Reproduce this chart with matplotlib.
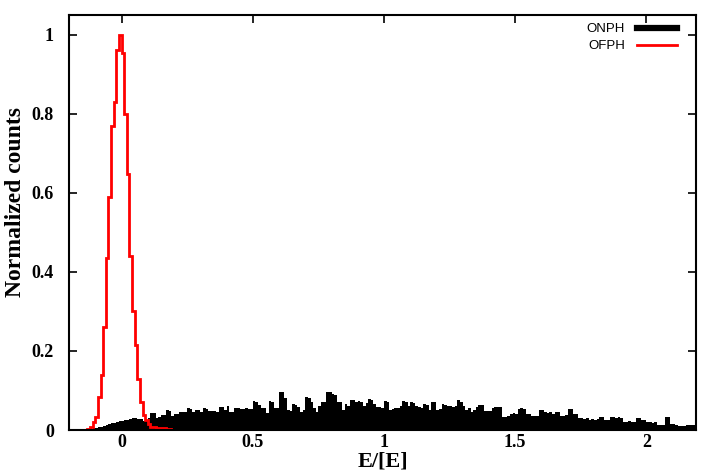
import numpy as np
import matplotlib
matplotlib.use("Agg")
import matplotlib.pyplot as plt
from matplotlib.lines import Line2D

# ONPH histogram, bins of 0.01 starting at -0.13
onph_start = -0.13
onph_width = 0.01
onph = [
    0.002, 0.003, 0.004, 0.006, 0.007, 0.008, 0.010, 0.012, 0.014, 0.017, 0.018, 0.020, 0.022,
    0.024, 0.026, 0.025, 0.028, 0.030, 0.031, 0.029, 0.027, 0.024, 0.022,
    0.030, 0.044, 0.042, 0.030, 0.032, 0.038, 0.038, 0.050, 0.048, 0.035,
    0.040, 0.040, 0.046, 0.046, 0.045, 0.055, 0.054, 0.045, 0.050, 0.050,
    0.045, 0.055, 0.054, 0.047, 0.047, 0.048, 0.046, 0.059, 0.058, 0.050,
    0.060, 0.045, 0.045, 0.056, 0.056, 0.052, 0.052, 0.055, 0.052, 0.052,
    0.074, 0.070, 0.063, 0.055, 0.055, 0.042, 0.074, 0.072, 0.055, 0.055,
    0.097, 0.095, 0.080, 0.050, 0.048, 0.065, 0.063, 0.058, 0.045, 0.050,
    0.083, 0.080, 0.070, 0.055, 0.045, 0.060, 0.070, 0.070, 0.095, 0.095,
    0.090, 0.088, 0.070, 0.070, 0.050, 0.065, 0.062, 0.077, 0.075, 0.070,
    0.074, 0.072, 0.060, 0.068, 0.078, 0.076, 0.065, 0.058, 0.058, 0.055,
    0.074, 0.072, 0.050, 0.052, 0.055, 0.055, 0.060, 0.074, 0.072, 0.060,
    0.070, 0.068, 0.060, 0.058, 0.055, 0.065, 0.063, 0.050, 0.070, 0.070,
    0.050, 0.052, 0.065, 0.063, 0.060, 0.060, 0.058, 0.060, 0.075, 0.070,
    0.060, 0.050, 0.055, 0.045, 0.050, 0.058, 0.063, 0.063, 0.049, 0.049,
    0.049, 0.055, 0.059, 0.059, 0.057, 0.034, 0.034, 0.036, 0.040, 0.042,
    0.040, 0.053, 0.055, 0.053, 0.040, 0.040, 0.036, 0.036, 0.036, 0.050,
    0.050, 0.046, 0.044, 0.046, 0.040, 0.046, 0.045, 0.035, 0.035, 0.038,
    0.053, 0.053, 0.040, 0.040, 0.030, 0.030, 0.028, 0.030, 0.026, 0.028,
    0.026, 0.027, 0.033, 0.033, 0.025, 0.025, 0.033, 0.033, 0.030, 0.033,
    0.030, 0.021, 0.021, 0.022, 0.021, 0.020, 0.030, 0.030, 0.025, 0.025,
    0.020, 0.020, 0.019, 0.020, 0.013, 0.013, 0.013, 0.034, 0.034, 0.015,
    0.015, 0.013, 0.010, 0.010, 0.010, 0.013, 0.013, 0.013, 0.013,
]

# OFPH histogram, bins of 0.01 starting at -0.13, then a flat zero to the end
ofph_start = -0.13
ofph_width = 0.01
ofph = [
    0.003, 0.008, 0.020, 0.034, 0.084, 0.14, 0.26, 0.435, 0.59, 0.77, 0.83, 0.962, 1.0,
    0.955, 0.80, 0.648, 0.44, 0.30, 0.215, 0.13, 0.071, 0.038, 0.025,
    0.015, 0.008, 0.008, 0.005, 0.005, 0.004, 0.004, 0.003, 0.002, 0.0,
]
x_end = 2.2

on_edges = onph_start + onph_width * np.arange(len(onph) + 1)
of_edges = np.append(ofph_start + ofph_width * np.arange(len(ofph) + 1), x_end)
of_vals = np.append(ofph, 0.0)

plt.rcParams['font.family'] = ['Liberation Serif', 'DejaVu Serif']

fig = plt.figure(figsize=(7.2, 4.71), dpi=100)
ax = fig.add_axes([0.096, 0.087, 0.871, 0.881])

ax.stairs(onph, on_edges, fill=True, color='black', linewidth=0)
ax.stairs(of_vals, of_edges, color='red', linewidth=2.0)

ax.set_xlim(-0.2, 2.19)
ax.set_ylim(0, 1.05)
ax.set_xticks([0, 0.5, 1, 1.5, 2])
ax.set_xticklabels(['0', '0.5', '1', '1.5', '2'])
ax.set_yticks([0, 0.2, 0.4, 0.6, 0.8, 1])
ax.set_yticklabels(['0', '0.2', '0.4', '0.6', '0.8', '1'])
ax.tick_params(direction='in', top=True, right=True, length=6, width=1.2,
               labelsize=13)
ax.tick_params(axis='x', pad=3)
ax.tick_params(axis='y', pad=11)
for lab in ax.get_xticklabels() + ax.get_yticklabels():
    lab.set_fontweight('bold')
for s in ax.spines.values():
    s.set_linewidth(1.5)

ax.set_xlabel('E/[E]', fontsize=16, fontweight='bold', labelpad=0)
ax.set_ylabel('Normalized counts', fontsize=17, fontweight='bold')
ax.yaxis.set_label_coords(-0.068, 0.55)

handles = [Line2D([], [], color='black', linewidth=4.5),
           Line2D([], [], color='red', linewidth=2)]
leg = ax.legend(handles, ['ONPH', 'OFPH'], loc='upper right',
                bbox_to_anchor=(0.975, 0.99), frameon=False,
                markerfirst=False, handlelength=3.0, handletextpad=0.9,
                labelspacing=0.35, borderaxespad=0.0, borderpad=0.3,
                prop={'family': 'Liberation Sans', 'size': 9.5})

fig.savefig('out.png', dpi=100)
